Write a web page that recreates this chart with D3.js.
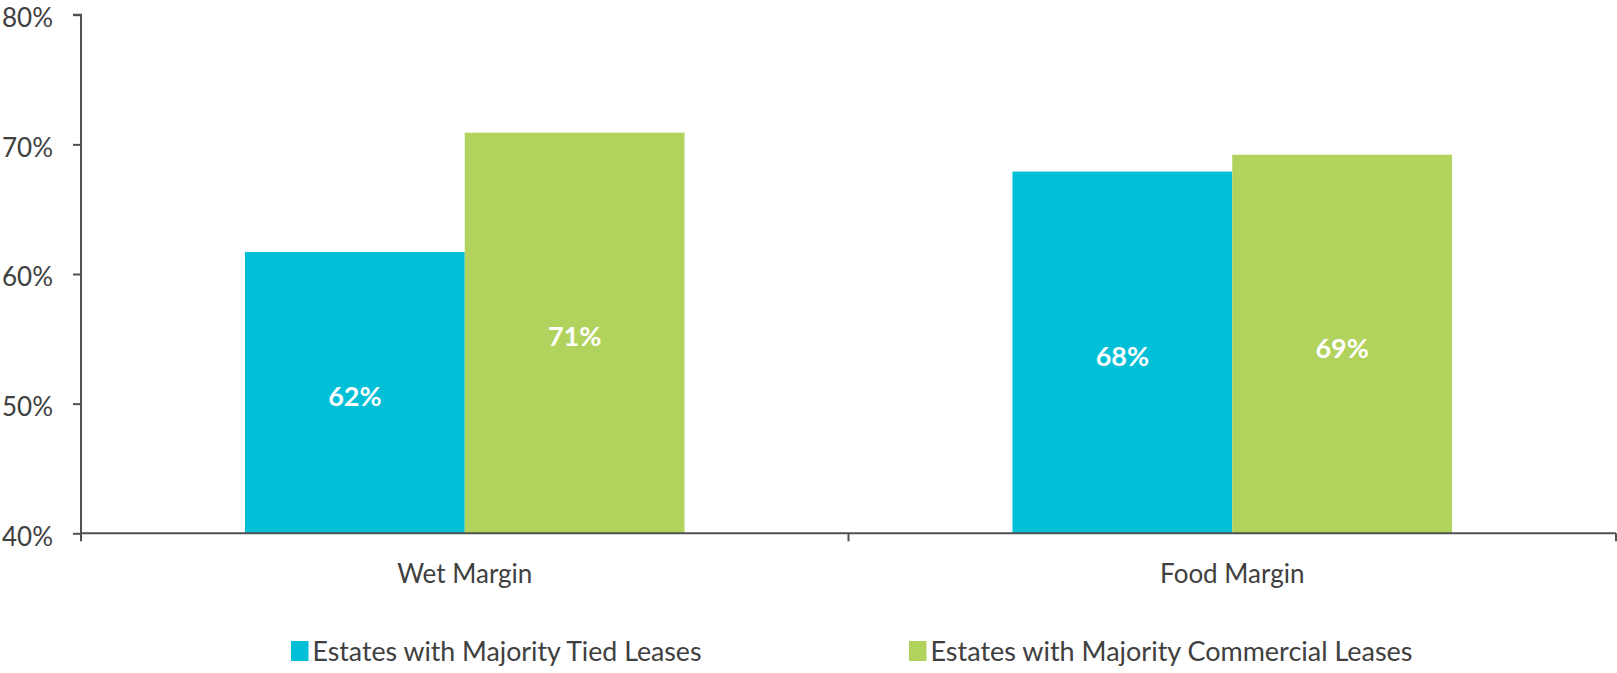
<!DOCTYPE html>
<html>
<head>
<meta charset="utf-8">
<script src="https://cdn.jsdelivr.net/npm/d3@7"></script>
<style>
  html, body { margin: 0; padding: 0; background: #ffffff; }
  svg { display: block; }
  text { font-family: Lato, "Open Sans", "DejaVu Sans", sans-serif; }
</style>
</head>
<body>
<svg id="chart" width="1617" height="673"></svg>
<script>
// ---- data ----
const categories = ["Wet Margin", "Food Margin"];
const seriesNames = ["Estates with Majority Tied Leases", "Estates with Majority Commercial Leases"];
const tiedValues = [61.7, 67.9];
const commercialValues = [70.9, 69.2];
const valueLabels = [["62%", "68%"], ["71%", "69%"]];
const yTicks = [40, 50, 60, 70, 80];
const seriesColors = ["#00BFD6", "#B2D25E"];

// ---- layout ----
const plotLeft = 81, plotRight = 1616, plotTop = 14.7, plotBottom = 533.3;
const textColor = "#404040";
const axisColor = "#505050";

const svg = d3.select("#chart");

const x0 = d3.scaleBand().domain(categories).range([plotLeft, plotRight]).paddingInner(0).paddingOuter(0);
const x1 = d3.scaleBand().domain(seriesNames).range([0, x0.bandwidth()]).paddingInner(0).paddingOuter(0.746);
const y = d3.scaleLinear().domain([40, 80]).range([plotBottom, plotTop]);

const seriesValues = [tiedValues, commercialValues];
const rows = [];
categories.forEach((c, i) => {
  seriesNames.forEach((s, j) => {
    rows.push({ cat: c, series: s, value: seriesValues[j][i], label: valueLabels[j][i], color: seriesColors[j] });
  });
});

// bars
const g = svg.append("g");
g.selectAll("rect.bar").data(rows).enter().append("rect")
  .attr("class", "bar")
  .attr("x", d => x0(d.cat) + x1(d.series))
  .attr("width", x1.bandwidth())
  .attr("y", d => y(d.value))
  .attr("height", d => y(40) - y(d.value))
  .attr("fill", d => d.color);

// value labels
g.selectAll("text.val").data(rows).enter().append("text")
  .attr("class", "val")
  .attr("x", d => x0(d.cat) + x1(d.series) + x1.bandwidth() / 2)
  .attr("y", d => (y(d.value) + y(40)) / 2)
  .attr("dy", "0.5em")
  .attr("text-anchor", "middle")
  .attr("font-size", 27)
  .attr("font-weight", "bold")
  .attr("fill", "#ffffff")
  .text(d => d.label);

// y axis
const yAxis = d3.axisLeft(y).tickValues(yTicks).tickFormat(d => d + "%").tickSize(8).tickPadding(20);
const yg = svg.append("g").attr("transform", `translate(${plotLeft},0)`).call(yAxis);
yg.select(".domain").attr("stroke", axisColor).attr("stroke-width", 2).attr("d", `M-8,${plotTop}H0V${plotBottom + 8}`);
yg.selectAll(".tick line").attr("stroke", axisColor).attr("stroke-width", 2);
yg.selectAll(".tick text").attr("fill", textColor).attr("font-size", 26).attr("dy", "0.46em")
  .attr("font-family", "Lato, 'Open Sans', sans-serif");

// x axis
const xAxis = d3.axisBottom(x0).tickSize(0).tickPadding(31);
const xg = svg.append("g").attr("transform", `translate(0,${plotBottom})`).call(xAxis);
xg.select(".domain").attr("stroke", axisColor).attr("stroke-width", 2).attr("d", `M${plotLeft},0H${plotRight}`);
xg.selectAll(".tick text").attr("fill", textColor).attr("font-size", 26)
  .attr("font-family", "Lato, 'Open Sans', sans-serif");
// category separator ticks
const sepX = [x0(categories[1]), plotRight];
xg.selectAll("line.sep").data(sepX).enter().append("line")
  .attr("class", "sep")
  .attr("x1", d => d).attr("x2", d => d)
  .attr("y1", 0).attr("y2", 8)
  .attr("stroke", axisColor).attr("stroke-width", 2);

// legend
const legendX = [291, 909];
const legendW = [389, 482];
const lg = svg.append("g");
seriesNames.forEach((s, i) => {
  lg.append("rect").attr("x", legendX[i]).attr("y", 641).attr("width", 17.5).attr("height", 20).attr("fill", seriesColors[i]);
  lg.append("text").attr("x", legendX[i] + 21.5).attr("y", 661)
    .attr("font-size", 26).attr("fill", textColor)
    .attr("textLength", legendW[i]).attr("lengthAdjust", "spacingAndGlyphs")
    .text(s);
});
</script>
</body>
</html>
